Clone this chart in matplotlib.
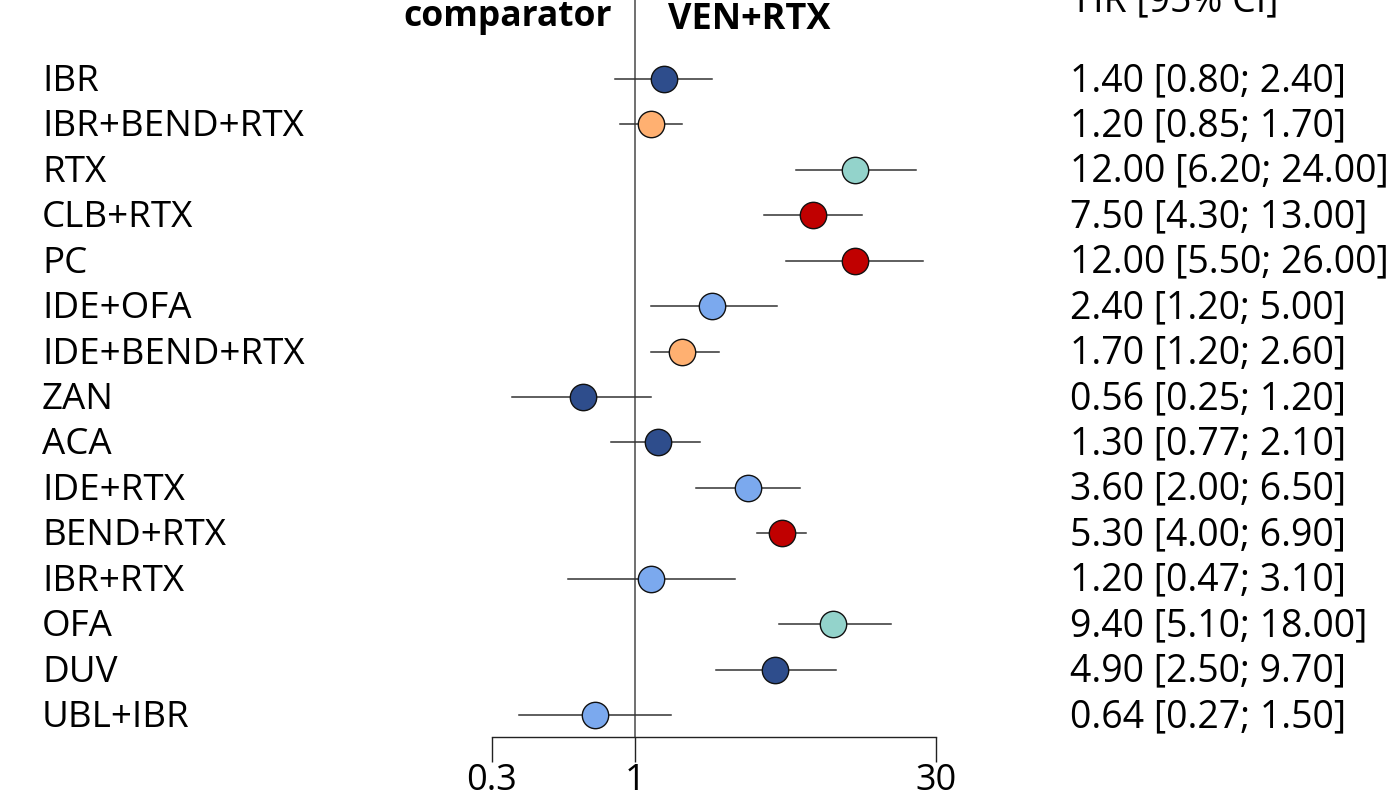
import matplotlib
matplotlib.use("Agg")
import matplotlib.pyplot as plt
from matplotlib.transforms import blended_transform_factory, offset_copy

plt.rcParams['font.family'] = ['Open Sans', 'DejaVu Sans']

treatments = ["IBR", "IBR+BEND+RTX", "RTX", "CLB+RTX", "PC", "IDE+OFA", "IDE+BEND+RTX",
              "ZAN", "ACA", "IDE+RTX", "BEND+RTX", "IBR+RTX", "OFA", "DUV", "UBL+IBR"]
hr = [1.40, 1.20, 12.00, 7.50, 12.00, 2.40, 1.70, 0.56, 1.30, 3.60, 5.30, 1.20, 9.40, 4.90, 0.64]
lower = [0.80, 0.85, 6.20, 4.30, 5.50, 1.20, 1.20, 0.25, 0.77, 2.00, 4.00, 0.47, 5.10, 2.50, 0.27]
upper = [2.40, 1.70, 24.00, 13.00, 26.00, 5.00, 2.60, 1.20, 2.10, 6.50, 6.90, 3.10, 18.00, 9.70, 1.50]
groups = ["dark", "orange", "teal", "red", "red", "light", "orange",
          "dark", "dark", "light", "red", "light", "teal", "dark", "light"]
tick_values = [0.2, 1, 30]
tick_labels = ["0.3", "1", "30"]

colors = {"dark": "#2E4D8C", "orange": "#FFB071", "teal": "#93D3CB",
          "red": "#C00000", "light": "#7BA9EE"}

W, H = 1389, 803
fig = plt.figure(figsize=(W / 100, H / 100), dpi=100)

# axes occupy pixels x 492..936, y 0..738 (from top)
ax = fig.add_axes([492 / W, (H - 738) / H, (936 - 492) / W, 738 / H])
ax.set_xscale("log")
ax.set_xlim(tick_values[0], tick_values[-1])
row0, step = 80, 45.43
ax.set_ylim((738 - row0) / step, -row0 / step)

for sp in ["top", "left", "right"]:
    ax.spines[sp].set_visible(False)
ax.spines["bottom"].set_linewidth(1.0)
ax.spines["bottom"].set_color("#222222")
ax.set_yticks([])
ax.set_xticks(tick_values)
ax.set_xticklabels(tick_labels, fontsize=26)
ax.xaxis.set_minor_locator(matplotlib.ticker.NullLocator())
ax.tick_params(axis="x", length=18, width=1.0, color="#222222", pad=0)
ax.patch.set_visible(False)

ax.axvline(1, color="#707070", lw=1.4, zorder=1)

for i, (t, h, lo, up, g) in enumerate(zip(treatments, hr, lower, upper, groups)):
    ax.plot([lo, up], [i, i], color="#333333", lw=1.1, zorder=2, clip_on=False)
    ax.plot([h], [i], "o", ms=19, mfc=colors[g], mec="#111111", mew=1.0, zorder=3, clip_on=False)

tr = blended_transform_factory(fig.transFigure, ax.transData)
tr = offset_copy(tr, fig=fig, x=0, y=-11, units="dots")
for i, (t, h, lo, up) in enumerate(zip(treatments, hr, lower, upper)):
    ax.text(42 / W, i, t, transform=tr, fontsize=26.5, va="baseline", ha="left")
    ax.text(1070 / W, i, f"{h:.2f} [{lo:.2f}; {up:.2f}]", transform=tr,
            fontsize=27, va="baseline", ha="left")

fig.text(612 / W, 1 - 17 / H, "comparator", fontsize=25.5, fontweight="bold", ha="right", va="center")
fig.text(668 / W, 1 - 20 / H, "VEN+RTX", fontsize=26, fontweight="bold", ha="left", va="center")
fig.text(1076 / W, 1 - 1 / H, "HR [95% CI]", fontsize=27, ha="left", va="center")

fig.savefig("out.png", dpi=100)
